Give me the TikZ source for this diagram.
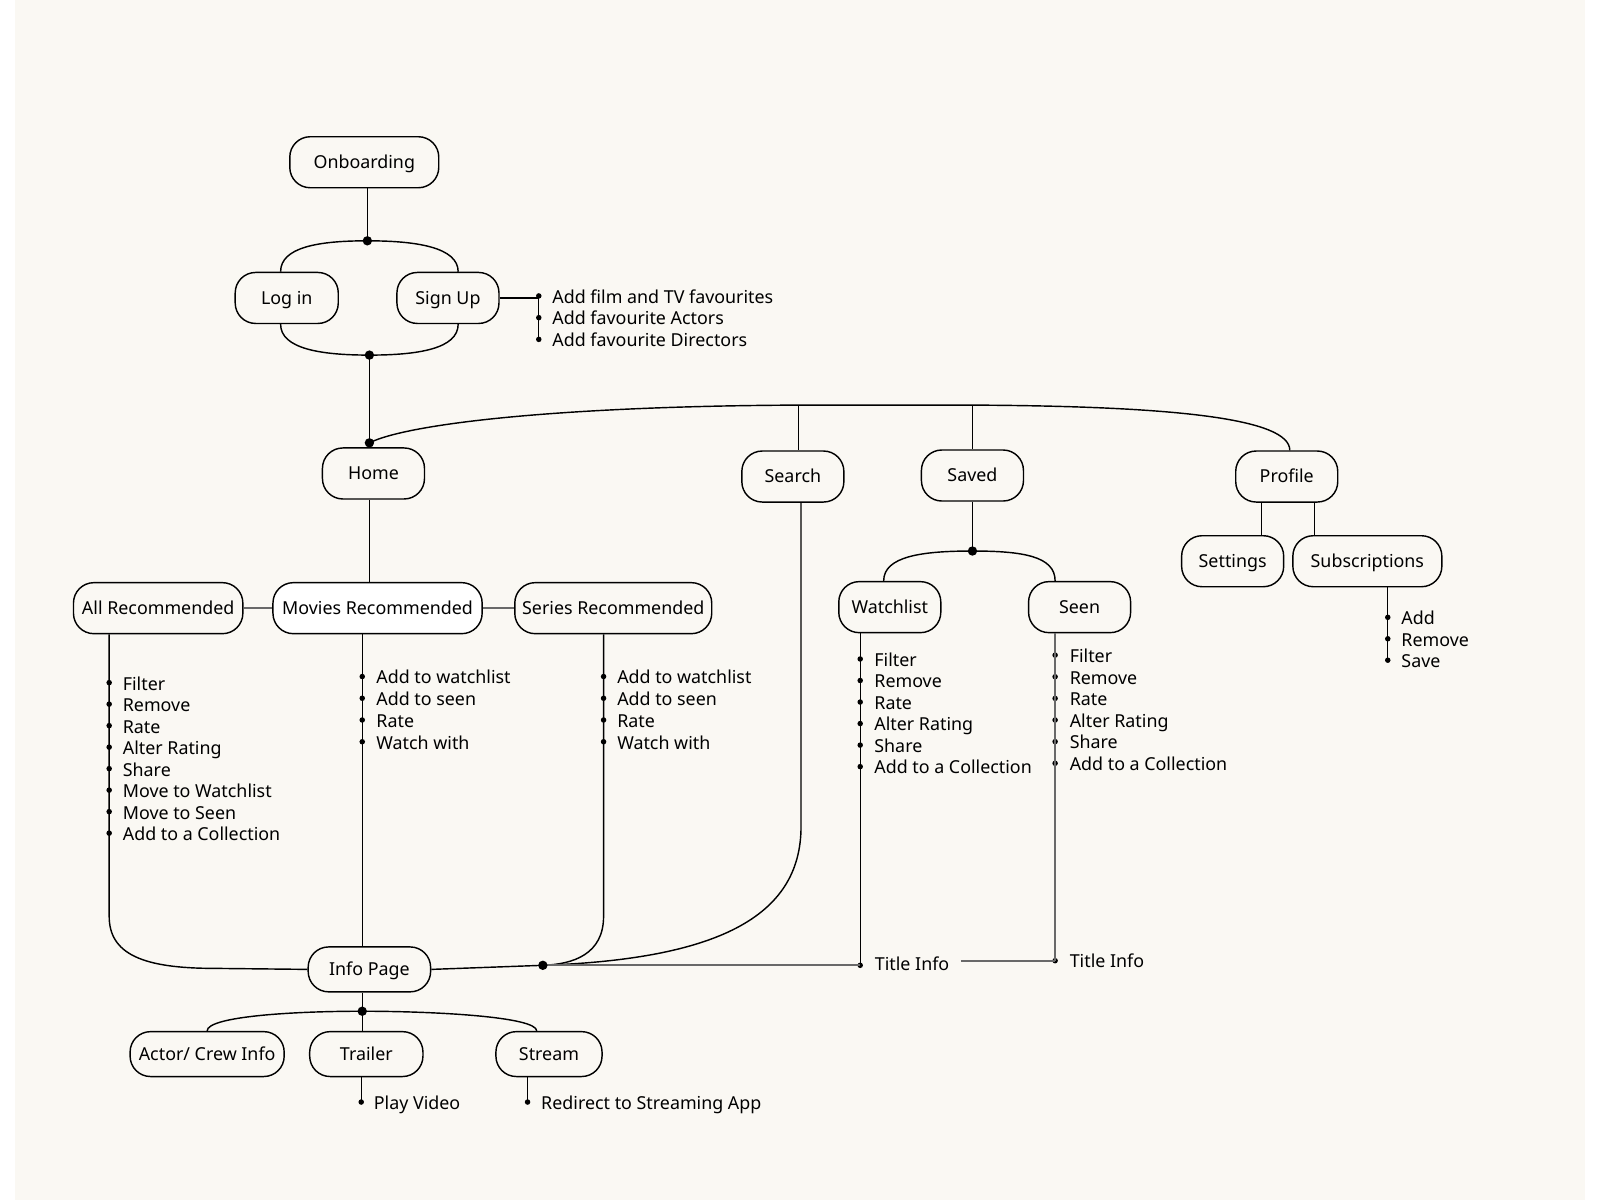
\documentclass[tikz,border=0pt]{standalone}
\usepackage{fontspec}
\setmainfont{Noto Sans}
\usepackage{xcolor}
\definecolor{paper}{RGB}{250,248,243}
\definecolor{linkgrey}{RGB}{105,105,105}
\tikzset{
  screen/.style={draw, line width=0.7pt, rounded corners=10pt, minimum height=25pt,
    inner sep=0pt, text height=6.2pt, text depth=0pt, font=\fontsize{8.75}{10}\selectfont},
  small/.style={screen, minimum height=22pt},
  item/.style={anchor=west, inner sep=0pt, text height=6.2pt, text depth=0pt,
    font=\fontsize{8.75}{10}\selectfont},
  wire/.style={line width=0.7pt},
  link/.style={line width=1.1pt, draw=linkgrey},
}

\begin{document}
\begin{tikzpicture}[x=0.5pt, y=-0.5pt]
        \fill[white] (0,0) rectangle (1568,1176);
        \fill[paper] (14.7,0) rectangle (1553,1176);
        \useasboundingbox (0,0) rectangle (1568,1176);

        \node[screen, minimum width=73pt] (onb) at (357,159) {Onboarding};
        \node[screen, minimum width=50.5pt] (login) at (281,292) {Log in};
        \node[screen, minimum width=50pt] (signup) at (439,292) {Sign Up};
        \node[screen, minimum width=50pt] (home) at (366,464) {Home};
        \node[screen, minimum width=50pt] (search) at (777,467) {Search};
        \node[screen, minimum width=50pt] (saved) at (953,466) {Saved};
        \node[screen, minimum width=50pt] (profile) at (1261,467) {Profile};
        \node[screen, minimum width=50pt] (settings) at (1208,550) {Settings};
        \node[screen, minimum width=73pt] (subs) at (1340,550) {Subscriptions};
        \node[screen, minimum width=83pt] (allrec) at (155,596) {All Recommended};
        \node[screen, minimum width=102.5pt, fill=white] (movrec) at (370,596) {Movies Recommended};
        \node[screen, minimum width=96.5pt] (serrec) at (601,596) {Series Recommended};
        \node[screen, minimum width=50pt] (watch) at (872,595) {Watchlist};
        \node[screen, minimum width=50pt] (seen) at (1058,595) {Seen};
        \node[small, minimum width=60pt] (info) at (362,950) {Info Page};
        \node[small, minimum width=75.5pt] (actor) at (203,1033) {Actor/ Crew Info};
        \node[small, minimum width=55.5pt] (trailer) at (359,1033) {Trailer};
        \node[small, minimum width=52pt] (stream) at (538,1033) {Stream};

        \coordinate (jlog) at (360,236);
        \coordinate (jsign) at (362,348);
        \coordinate (jhome) at (362,434);
        \coordinate (jsaved) at (953,540);
        \coordinate (jinfo) at (532,946);
        \coordinate (jsub) at (355,991);

        \draw[wire] (jlog |- onb.south) -- (jlog);
        \draw[wire] ([xshift=-3pt]login.north) .. controls +(0,-24) and +(-48,0) .. (jlog)
                    .. controls +(48,0) and +(0,-24) .. ([xshift=5pt]signup.north);
        \draw[wire] ([xshift=-3pt]login.south) .. controls +(0,24) and +(-48,0) .. (jsign)
                    .. controls +(48,0) and +(0,24) .. ([xshift=5pt]signup.south);
        \draw[wire] (jsign) -- (jhome);

        \coordinate (csearch) at (782.5,397);
        \coordinate (csaved) at (953,397);
        \draw[wire] (jhome) .. controls (400,415) and (550,398) .. (csearch) -- (csaved)
                    .. controls (1150,398) and (1264,410) .. ([xshift=1.5pt]profile.north);
        \draw[wire] (csearch) -- (csearch |- search.north);
        \draw[wire] (csaved) -- (csaved |- saved.north);

        \coordinate (hx) at (362,530);
        \draw[wire] (hx |- home.south) -- (hx |- movrec.north);
        \draw[link] (allrec.east) -- (movrec.west);
        \draw[link] (movrec.east) -- (serrec.west);

        \coordinate (pset) at (1236,510);
        \coordinate (psub) at (1288,510);
        \draw[wire] (pset |- profile.south) -- (pset |- settings.north);
        \draw[wire] (psub |- profile.south) -- (psub |- subs.north);

        \draw[wire] (jsaved |- saved.south) -- (jsaved);
        \draw[wire] ([xshift=-3pt]watch.north) .. controls +(0,-24) and +(-50,0) .. (jsaved)
                    .. controls +(50,0) and +(0,-24) .. ([xshift=-12pt]seen.north);

        \foreach \txt [count=\i from 0] in {Add film and TV favourites, Add favourite Actors, Add favourite Directors}{
          \coordinate (sub\i) at (528,290+21.3*\i);
          \fill (sub\i) circle (1.35pt);
          \node[item] (subt\i) at (541,291+21.3*\i) {\txt};
        }
        \draw[wire] (signup.east) -- (sub0 |- signup.east) -- (sub2);

        \foreach \txt [count=\i from 0] in {Filter, Remove, Rate, Alter Rating, Share, Move to Watchlist, Move to Seen, Add to a Collection}{
          \coordinate (allb\i) at (107,669+21.07*\i);
          \fill (allb\i) circle (1.35pt);
          \node[item] (allt\i) at (120,670+21.07*\i) {\txt};
        }
        \foreach \txt [count=\i from 0] in {Add to watchlist, Add to seen, Rate, Watch with}{
          \coordinate (movb\i) at (355,663+21.3*\i);
          \fill (movb\i) circle (1.35pt);
          \node[item] (movt\i) at (368.5,664+21.3*\i) {\txt};
          \coordinate (serb\i) at (591.5,663+21.3*\i);
          \fill (serb\i) circle (1.35pt);
          \node[item] (sert\i) at (604.5,664+21.3*\i) {\txt};
        }
        \foreach \txt [count=\i from 0] in {Filter, Remove, Rate, Alter Rating, Share, Add to a Collection}{
          \coordinate (watb\i) at (843,645.8+21.1*\i);
          \fill (watb\i) circle (1.35pt);
          \node[item] (watt\i) at (856.5,646.8+21.1*\i) {\txt};
          \coordinate (seeb\i) at (1034,642+21.2*\i);
          \fill (seeb\i) circle (1.35pt);
          \node[item] (seet\i) at (1048,643+21.2*\i) {\txt};
        }
        \foreach \txt [count=\i from 0] in {Add, Remove, Save}{
          \coordinate (subsb\i) at (1360,605+21*\i);
          \fill (subsb\i) circle (1.35pt);
          \node[item] (subst\i) at (1373,606+21*\i) {\txt};
        }
        \draw[wire] (subsb0 |- subs.south) -- (subsb2);

        \coordinate (abend) at (107,898);
        \coordinate (rbend) at (591.5,898);
        \coordinate (sbend) at (785,810);
        \draw[wire] (abend |- allrec.south) -- (abend) .. controls (107,935) and (140,949) .. (210,949) -- (info.west);
        \draw[wire] (movb0 |- movrec.south) -- (movb0 |- info.north);
        \draw[wire] (rbend |- serrec.south) -- (rbend) .. controls (591.5,935) and (562,945) .. (jinfo);
        \draw[wire] (sbend |- search.south) -- (sbend) .. controls (785,900) and (700,940) .. (jinfo);
        \draw[wire] (info.east) -- (jinfo);

        \coordinate (wdot) at (843,946);
        \coordinate (sdot) at (1034,941.5);
        \fill (wdot) circle (1.35pt);
        \fill (sdot) circle (1.35pt);
        \node[item] (wtitle) at (857,945) {Title Info};
        \node[item] (stitle) at (1048,941.5) {Title Info};
        \draw[wire] (wdot |- watch.south) -- (wdot);
        \draw[link] (sdot |- seen.south) -- (sdot);
        \draw[link] (jinfo) -- (wdot);
        \coordinate (wend) at ([xshift=5.5pt]wtitle.east);
        \draw[link] (wend |- sdot) -- (sdot);

        \draw[wire] (jsub |- info.south) -- (jsub) -- (jsub |- trailer.north);
        \draw[wire] (actor.north) .. controls +(0,-14) and +(-70,0) .. (jsub)
                    .. controls +(70,0) and +(0,-14) .. ([xshift=-6pt]stream.north);

        \coordinate (pv) at (354,1080);
        \coordinate (rd) at (517,1080);
        \fill (pv) circle (1.35pt);
        \fill (rd) circle (1.35pt);
        \node[item] (pvt) at (366,1081) {Play Video};
        \node[item] (rdt) at (530,1081) {Redirect to Streaming App};
        \draw[wire] (pv |- trailer.south) -- (pv);
        \draw[wire] (rd |- stream.south) -- (rd);

        \foreach \j in {jlog,jsign,jhome,jsaved,jinfo,jsub}
          \fill (\j) circle (2.3pt);
\end{tikzpicture}
\end{document}
